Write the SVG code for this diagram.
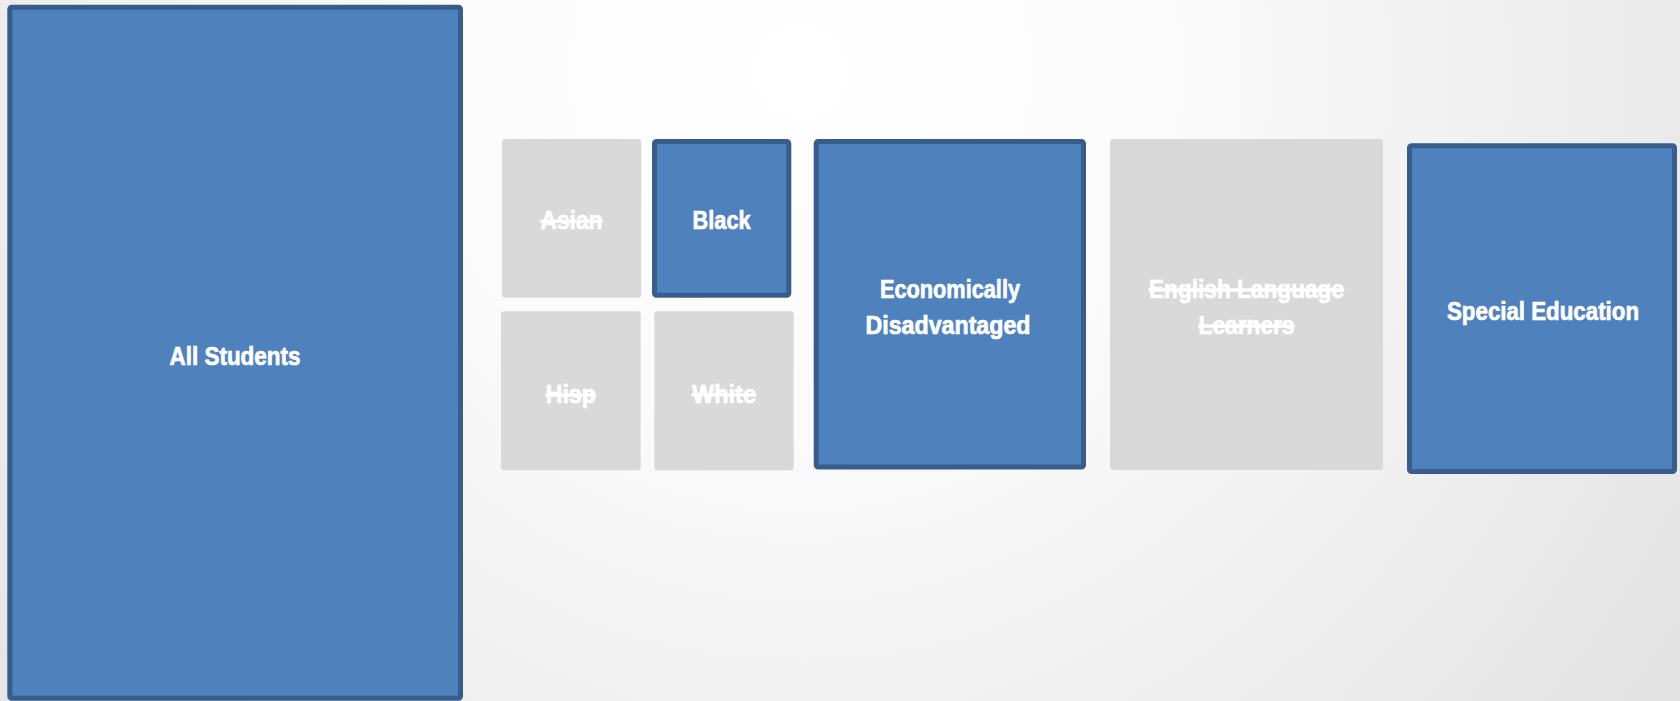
<svg xmlns="http://www.w3.org/2000/svg" width="1680" height="701" viewBox="0 0 1680 701">
<defs>
<radialGradient id="bg" gradientUnits="userSpaceOnUse" cx="800" cy="70" r="1050">
<stop offset="0" stop-color="#ffffff"/>
<stop offset="0.35" stop-color="#fbfbfb"/>
<stop offset="1" stop-color="#e4e4e4"/>
</radialGradient>
</defs>
<style>
.on{fill:#4f81bd;stroke:#385d8a;stroke-width:5}
.off{fill:#d9d9d9}
.t{font-family:"Liberation Sans",Arial,sans-serif;font-weight:bold;font-size:26px;fill:#ffffff;stroke:#ffffff;stroke-width:0.7;text-anchor:middle}
.x{text-decoration:line-through}
</style>
<rect x="0" y="0" width="1680" height="701" fill="url(#bg)"/>
<g id="all-students">
<rect class="on" x="9.8" y="7.2" width="450.7" height="691" rx="2"/>
<text class="t" x="235" y="365" textLength="131" lengthAdjust="spacingAndGlyphs">All Students</text>
</g>
<g id="asian">
<rect class="off" x="502" y="139" width="139.3" height="158.7" rx="3"/>
<text class="t x" x="571.5" y="229.3" textLength="62" lengthAdjust="spacingAndGlyphs">Asian</text>
</g>
<g id="black">
<rect class="on" x="654.5" y="141.5" width="134.3" height="153.7" rx="2"/>
<text class="t" x="721.6" y="229.3" textLength="58" lengthAdjust="spacingAndGlyphs">Black</text>
</g>
<g id="hisp">
<rect class="off" x="501" y="311.3" width="139.7" height="159" rx="3"/>
<text class="t x" x="570.8" y="403" textLength="50" lengthAdjust="spacingAndGlyphs">Hisp</text>
</g>
<g id="white">
<rect class="off" x="654.3" y="311.3" width="139.4" height="159" rx="3"/>
<text class="t x" x="724" y="402.7" textLength="64" lengthAdjust="spacingAndGlyphs">White</text>
</g>
<g id="econ">
<rect class="on" x="816.2" y="141.5" width="267.3" height="325.5" rx="2"/>
<text class="t" x="950" y="297.7" textLength="140" lengthAdjust="spacingAndGlyphs">Economically</text>
<text class="t" x="948" y="334" textLength="165" lengthAdjust="spacingAndGlyphs">Disadvantaged</text>
</g>
<g id="ell">
<rect class="off" x="1110" y="139" width="273" height="331" rx="3"/>
<text class="t x" x="1246.5" y="298" textLength="195" lengthAdjust="spacingAndGlyphs">English Language</text>
<text class="t x" x="1246.5" y="334" textLength="96" lengthAdjust="spacingAndGlyphs">Learners</text>
</g>
<g id="special-ed">
<rect class="on" x="1409.5" y="145.8" width="265" height="325.7" rx="2"/>
<text class="t" x="1543" y="319.5" textLength="192" lengthAdjust="spacingAndGlyphs">Special Education</text>
</g>
<g id="connectors"/>
</svg>
